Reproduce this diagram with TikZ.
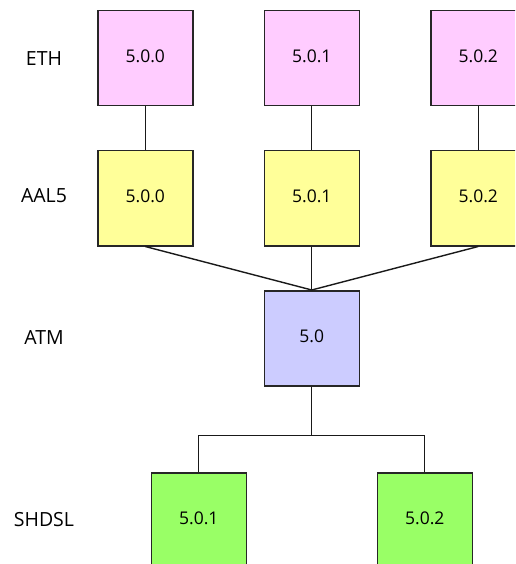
\documentclass[tikz,border=0pt]{standalone}
\usepackage{fontspec}
\setmainfont{Open Sans}
\begin{document}
\begin{tikzpicture}[x=1pt,y=-1pt,
  box/.style={draw=black!85,line width=1.5pt,minimum width=95pt,minimum height=95pt,inner sep=0pt,font=\fontsize{17.5}{20}\selectfont,anchor=north west,text height=12.5pt,text depth=4pt},
  lay/.style={font=\fontsize{19.5}{22}\selectfont,text height=14pt,text depth=0pt},
  con/.style={line width=1.4pt,black!90}]
\useasboundingbox (0,0) rectangle (515,564);
\begin{scope}
\clip (0,0) rectangle (515,564);
\node[lay] (lEth) at (44,59) {ETH};
\node[lay] (lAal) at (44,195.5) {AAL5};
\node[lay] (lAtm) at (44,337) {ATM};
\node[lay] (lShd) at (44,519.5) {SHDSL};
\node[box,fill={rgb,255:red,255;green,204;blue,255}] (e0) at (97,10) {5.0.0};
\node[box,fill={rgb,255:red,255;green,204;blue,255}] (e1) at (263.5,10) {5.0.1};
\node[box,fill={rgb,255:red,255;green,204;blue,255}] (e2) at (430,10) {5.0.2};
\node[box,fill={rgb,255:red,255;green,255;blue,153}] (a0) at (97,150) {5.0.0};
\node[box,fill={rgb,255:red,255;green,255;blue,153}] (a1) at (263.5,150) {5.0.1};
\node[box,fill={rgb,255:red,255;green,255;blue,153}] (a2) at (430,150) {5.0.2};
\node[box,fill={rgb,255:red,204;green,204;blue,255}] (atm) at (263.5,290) {5.0};
\node[box,fill={rgb,255:red,153;green,255;blue,102}] (s1) at (150.5,472) {5.0.1};
\node[box,fill={rgb,255:red,153;green,255;blue,102}] (s2) at (376.5,472) {5.0.2};
\coordinate (bus) at ([yshift=-49pt]atm.south);
\draw[con] (e0.south) -- (a0.north);
\draw[con] (e1.south) -- (a1.north);
\draw[con] (e2.south) -- (a2.north);
\draw[con] (a0.south) -- (atm.north);
\draw[con] (a1.south) -- (atm.north);
\draw[con] (a2.south) -- (atm.north);
\draw[con] (atm.south) -- (bus);
\draw[con] (s1.north) |- (bus) -| (s2.north);
\end{scope}
\end{tikzpicture}
\end{document}
